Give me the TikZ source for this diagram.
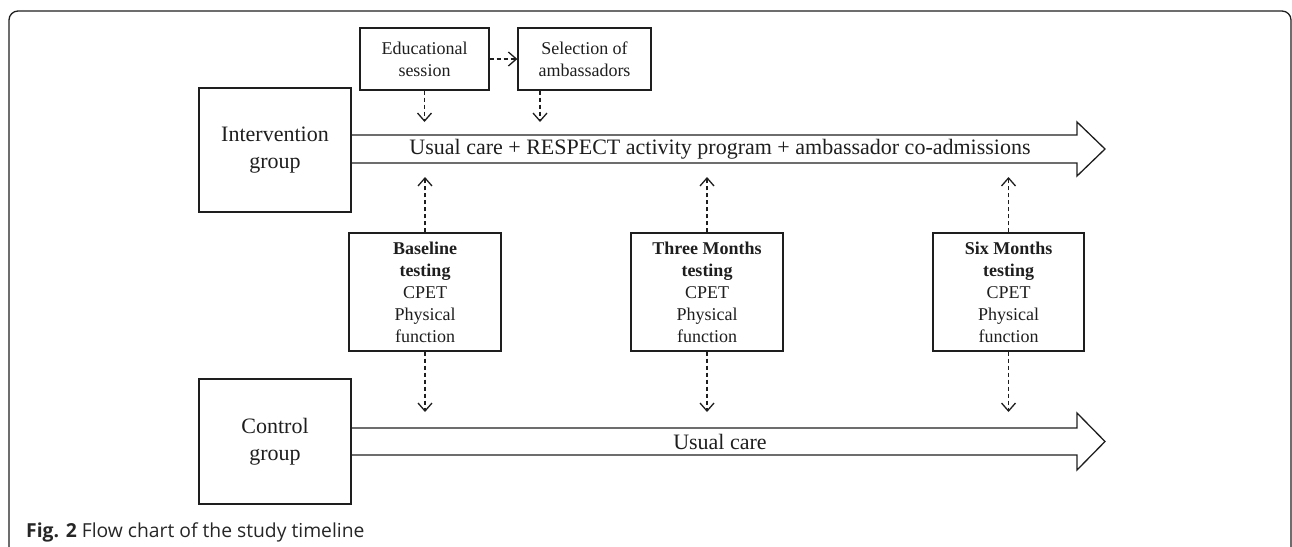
\documentclass[tikz,border=0pt]{standalone}
\usepackage{fontspec}
\setmainfont{Liberation Serif}
\newfontfamily\capfont{Open Sans}
\usetikzlibrary{arrows.meta}
\definecolor{ink}{HTML}{1E1E1E}
\begin{document}
\begin{tikzpicture}[x=1pt,y=-1pt,
  box/.style={draw=ink,line width=1.3pt,inner sep=0pt,align=center,text=ink},
  small/.style={font=\fontsize{18}{22}\selectfont},
  big/.style={font=\fontsize{22}{27.5}\selectfont},
  dasharrow/.style={draw=ink,line width=1.4pt,dash pattern=on 4.5pt off 2.5pt,
    -{Straight Barb[length=8pt,width=14pt,line width=1.3pt]}},
  band/.style={draw=ink,line width=1.3pt,line join=miter}]
\useasboundingbox (0,0) rectangle (1292,546);
% frame
\draw[ink,line width=1.3pt,rounded corners=9pt] (9,548) -- (9,11) -- (1291,11) -- (1291,548);
% top boxes
\node[box,small,minimum width=129pt,minimum height=62pt] (edu) at (424.5,59) {Educational\\session};
\node[box,small,minimum width=133pt,minimum height=62pt] (sel) at (584.5,59) {Selection of\\ambassadors};
% groups
\node[box,big,minimum width=152pt,minimum height=124pt] (int) at (275,150) {Intervention\\group};
\node[box,big,minimum width=152pt,minimum height=125pt] (ctl) at (275,441.5) {Control\\group};
% testing boxes
\node[box,small,minimum width=152pt,minimum height=118pt] (base) at (425,292) {\textbf{Baseline}\\\textbf{testing}\\CPET\\Physical\\function};
\node[box,small,minimum width=152pt,minimum height=118pt] (three) at (707,292) {\textbf{Three Months}\\\textbf{testing}\\CPET\\Physical\\function};
\node[box,small,minimum width=151pt,minimum height=118pt] (six) at (1008.5,292) {\textbf{Six Months}\\\textbf{testing}\\CPET\\Physical\\function};
% band arrows
\draw[band] (int.east |- 0,135) -- (1077,135) -- (1077,122) -- (1105,149) -- (1077,176) -- (1077,163) -- (int.east |- 0,163);
\draw[band] (ctl.east |- 0,428) -- (1077,428) -- (1077,413) -- (1105,441.5) -- (1077,470) -- (1077,455) -- (ctl.east |- 0,455);
\node[big,text=ink] (usual1) at (720,149) {Usual care + RESPECT activity program + ambassador co-admissions};
\node[big,text=ink] (usual2) at (720,441.5) {Usual care};
% connector end points
\coordinate (e1) at (424.5,122);
\coordinate (s1) at (540,122);
\coordinate (b1) at (425,177);
\coordinate (t1) at (707,177);
\coordinate (x1) at (1008.5,177);
\coordinate (b2) at (425,412);
\coordinate (t2) at (707,412);
\coordinate (x2) at (1008.5,412);
% connectors
\draw[dasharrow] (edu) -- (sel);
\draw[dasharrow] (edu) -- (e1);
\draw[dasharrow] (s1 |- sel.south) -- (s1);
\draw[dasharrow] (base) -- (b1);
\draw[dasharrow] (three) -- (t1);
\draw[dasharrow] (six) -- (x1);
\draw[dasharrow] (base) -- (b2);
\draw[dasharrow] (three) -- (t2);
\draw[dasharrow] (six) -- (x2);
% caption
\node[anchor=base west,inner sep=0pt,font=\capfont\fontsize{19.3}{23}\selectfont,text=black!85] (cap) at (26,537) {\textbf{Fig. 2} Flow chart of the study timeline};
\end{tikzpicture}
\end{document}
